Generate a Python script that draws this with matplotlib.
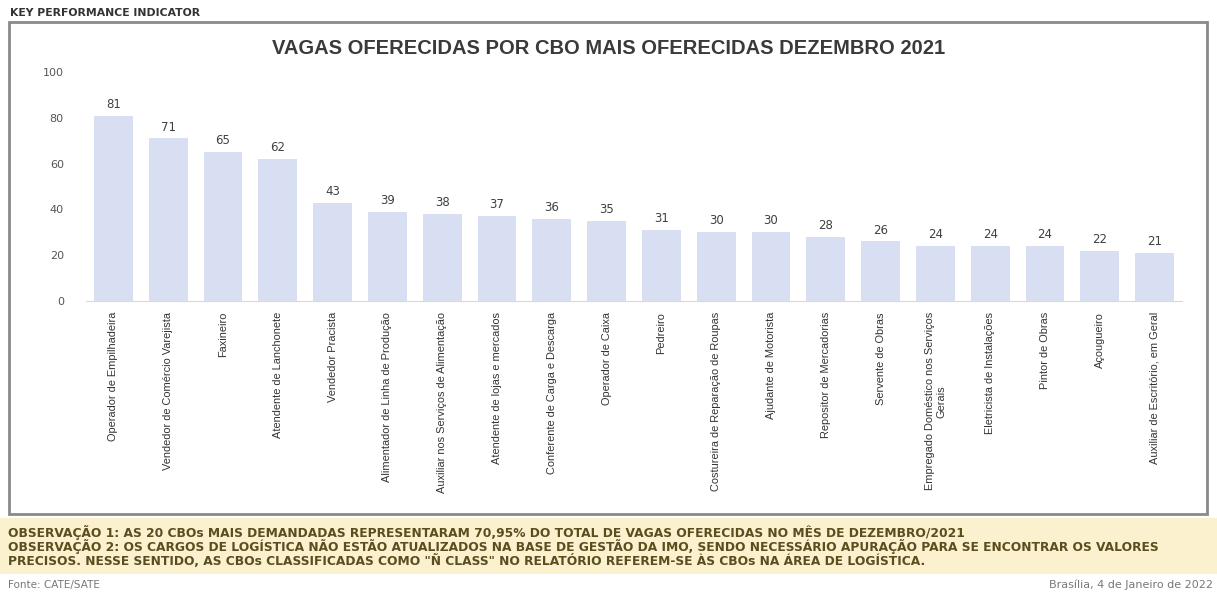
import matplotlib
matplotlib.use("Agg")
import matplotlib.pyplot as plt
from matplotlib.patches import Rectangle

categories = [
    "Operador de Empilhadeira",
    "Vendedor de Comércio Varejista",
    "Faxineiro",
    "Atendente de Lanchonete",
    "Vendedor Pracista",
    "Alimentador de Linha de Produção",
    "Auxiliar nos Serviços de Alimentação",
    "Atendente de lojas e mercados",
    "Conferente de Carga e Descarga",
    "Operador de Caixa",
    "Pedreiro",
    "Costureira de Reparação de Roupas",
    "Ajudante de Motorista",
    "Repositor de Mercadorias",
    "Servente de Obras",
    "Empregado Doméstico nos Serviços\nGerais",
    "Eletricista de Instalações",
    "Pintor de Obras",
    "Açougueiro",
    "Auxiliar de Escritório, em Geral",
]
values = [81, 71, 65, 62, 43, 39, 38, 37, 36, 35, 31, 30, 30, 28, 26, 24, 24, 24, 22, 21]
y_ticks = [0, 20, 40, 60, 80, 100]

title = "VAGAS OFERECIDAS POR CBO MAIS OFERECIDAS DEZEMBRO 2021"
header = "KEY PERFORMANCE INDICATOR"
obs1 = "OBSERVAÇÃO 1: AS 20 CBOs MAIS DEMANDADAS REPRESENTARAM 70,95% DO TOTAL DE VAGAS OFERECIDAS NO MÊS DE DEZEMBRO/2021"
obs2 = "OBSERVAÇÃO 2: OS CARGOS DE LOGÍSTICA NÃO ESTÃO ATUALIZADOS NA BASE DE GESTÃO DA IMO, SENDO NECESSÁRIO APURAÇÃO PARA SE ENCONTRAR OS VALORES"
obs3 = "PRECISOS. NESSE SENTIDO, AS CBOs CLASSIFICADAS COMO \"Ñ CLASS\" NO RELATÓRIO REFEREM-SE ÀS CBOs NA ÁREA DE LOGÍSTICA."
source = "Fonte: CATE/SATE"
place_date = "Brasília, 4 de Janeiro de 2022"

W, H = 1217, 594
fig = plt.figure(figsize=(W / 100, H / 100), dpi=100)
fig.patch.set_facecolor("white")

def fx(px):
    return px / W

def fy(py):
    return 1 - py / H

# outer frame
fig.patches.append(Rectangle((fx(9), fy(514)), fx(1198), 492 / H, transform=fig.transFigure,
                             fill=False, edgecolor="#8a8a8a", linewidth=2, zorder=0))
# yellow observation band
fig.patches.append(Rectangle((0, fy(574)), 1, 56 / H, transform=fig.transFigure,
                             facecolor="#fcf1cf", edgecolor="none", zorder=0))

ax = fig.add_axes([fx(86), fy(301), fx(1096), 229 / H])
x = list(range(len(categories)))
bars = ax.bar(x, values, width=0.71, color="#d9dff2", zorder=2)
for xi, v in zip(x, values):
    ax.annotate(str(v), (xi, v), xytext=(0, 3.5), textcoords="offset points",
                ha="center", va="bottom", fontsize=8.5, color="#404040",
                family=["DejaVu Sans"])
ax.set_xlim(-0.5, len(categories) - 0.5)
ax.set_ylim(0, 100)
ax.set_yticks(y_ticks)
ax.set_yticklabels([str(t) for t in y_ticks], fontsize=8, color="#555555")
ax.set_xticks(x)
ax.set_xticklabels(categories, rotation=90, ha="center", va="top", fontsize=7.9,
                   color="#333333", multialignment="center",
                   family=["Liberation Sans", "DejaVu Sans"])
ax.tick_params(axis="both", length=0)
ax.tick_params(axis="y", pad=16)
ax.tick_params(axis="x", pad=8)
for s in ["top", "right", "left"]:
    ax.spines[s].set_visible(False)
ax.spines["bottom"].set_color("#d9d9d9")
ax.set_facecolor("none")

fig.text(0.5, fy(48), title, ha="center", va="center", fontsize=14.5, fontweight="bold",
         color="#3a3a3a", family=["Liberation Sans", "DejaVu Sans"])
fig.text(fx(10), fy(13), header, ha="left", va="center", fontsize=7.8, fontweight="bold",
         color="#333333", family=["DejaVu Sans"])

obs_kw = dict(ha="left", va="center", fontsize=8.8, fontweight="bold", color="#5a4d1e",
              family=["DejaVu Sans"])
fig.text(fx(8), fy(532), obs1, **obs_kw)
fig.text(fx(8), fy(547), obs2, **obs_kw)
fig.text(fx(8), fy(561), obs3, **obs_kw)

fig.text(fx(8), fy(585), source, ha="left", va="center", fontsize=7.5, color="#777777",
         family=["DejaVu Sans"])
fig.text(fx(1213), fy(585), place_date, ha="right", va="center", fontsize=8, color="#777777",
         family=["DejaVu Sans"])

fig.savefig("out.png", dpi=100, facecolor="white")
